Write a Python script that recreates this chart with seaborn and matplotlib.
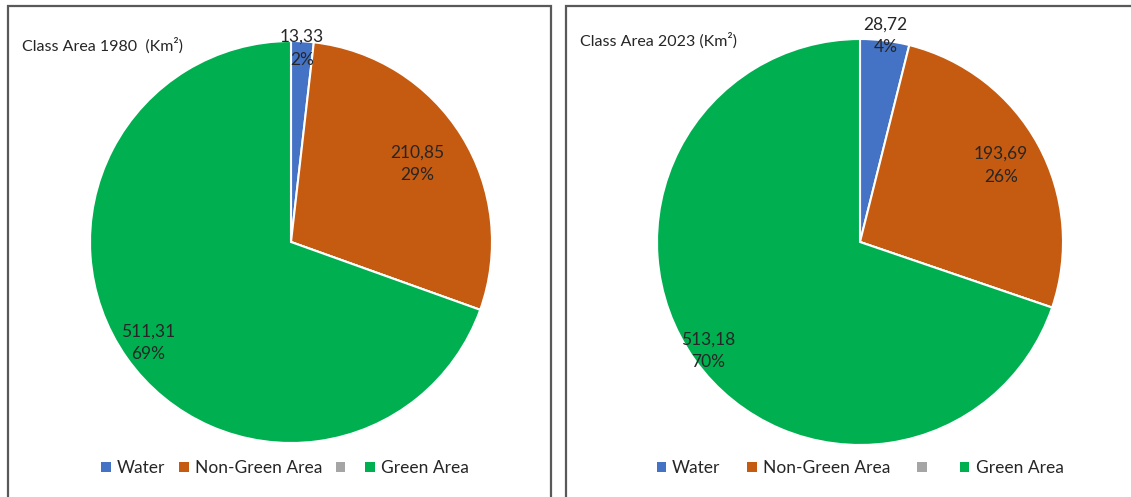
import numpy as np
import seaborn as sns
import matplotlib.pyplot as plt
from matplotlib.patches import Rectangle

# Datos (Km2)
clases = ["Water", "Non-Green Area", "", "Green Area"]
area_1980 = [13.33, 210.85, 0.0, 511.31]
area_2023 = [28.72, 193.69, 0.0, 513.18]
titulos = ["Class Area 1980  (Km\u00b2)", "Class Area 2023 (Km\u00b2)"]

sns.set_theme(style="white")
plt.rcParams['font.family'] = ['Lato', 'DejaVu Sans']

colores = sns.color_palette(["#4472C4", "#C55A11", "#A5A5A5", "#00B050"])
texto = "#262626"


def porcentajes(valores):
    # redondeo que suma 100 (como lo muestra Excel)
    p = 100 * np.array(valores) / sum(valores)
    base = np.floor(p).astype(int)
    falta = 100 - base.sum()
    orden = np.argsort(-(p - base))
    for k in orden[:falta]:
        base[k] += 1
    return base


W, H = 1131, 497
fig = plt.figure(figsize=(W / 100, H / 100), dpi=100)

# marcos de cada panel (pixeles: izq, arriba, ancho)
marcos = [(8, 6, 543), (566, 6, 600)]
for x0, y0, w in marcos:
    fig.patches.append(Rectangle((x0 / W, -0.1), w / W, (H - y0) / H + 0.1,
                                 transform=fig.transFigure, fill=False,
                                 edgecolor="#595959", linewidth=1.6))

# posicion de cada pie: centro y radio en pixeles
pies = [(291, 242, 201), (860, 242, 203)]
# distancia de la etiqueta por cuña (fraccion del radio)
dist = [[0.965, 0.74, 0, 0.87], [1.025, 0.79, 0, 0.92]]
pos_titulo = [(22, 46), (580, 41)]
centro_leyenda = [285, 860]
espacio_leyenda = [0.8, 1.55]

for i, datos in enumerate([area_1980, area_2023]):
    cx, cy, r = pies[i]
    ax = fig.add_axes([(cx - r) / W, (H - cy - r) / H, 2 * r / W, 2 * r / H])
    wedges, _ = ax.pie(datos, colors=colores, startangle=90, counterclock=False,
                       wedgeprops=dict(edgecolor="white", linewidth=1.5))
    ax.set_xlim(-1, 1)
    ax.set_ylim(-1, 1)
    ax.set_aspect("auto")
    ax.axis("off")

    pct = porcentajes(datos)
    for j, (w, v) in enumerate(zip(wedges, datos)):
        if v == 0:
            continue
        ang = np.deg2rad((w.theta1 + w.theta2) / 2)
        d = dist[i][j]
        etiqueta = f"{v:.2f}".replace(".", ",") + f"\n{pct[j]}%"
        ax.text(d * np.cos(ang), d * np.sin(ang), etiqueta, ha="center", va="center",
                fontsize=12.5, color=texto, linespacing=1.5)

    tx, ty = pos_titulo[i]
    fig.text(tx / W, 1 - ty / H, titulos[i], fontsize=11.5, color=texto,
             ha="left", va="center")

    handles = [Rectangle((0, 0), 1, 1, facecolor=c, edgecolor="none") for c in colores]
    fig.legend(handles, clases, loc="center", ncol=4, frameon=False,
               bbox_to_anchor=(centro_leyenda[i] / W, 1 - 468 / H), fontsize=12.5,
               handlelength=0.55, handleheight=0.55, handletextpad=0.35,
               columnspacing=espacio_leyenda[i], labelcolor=texto)

fig.savefig("out.png", dpi=100)
